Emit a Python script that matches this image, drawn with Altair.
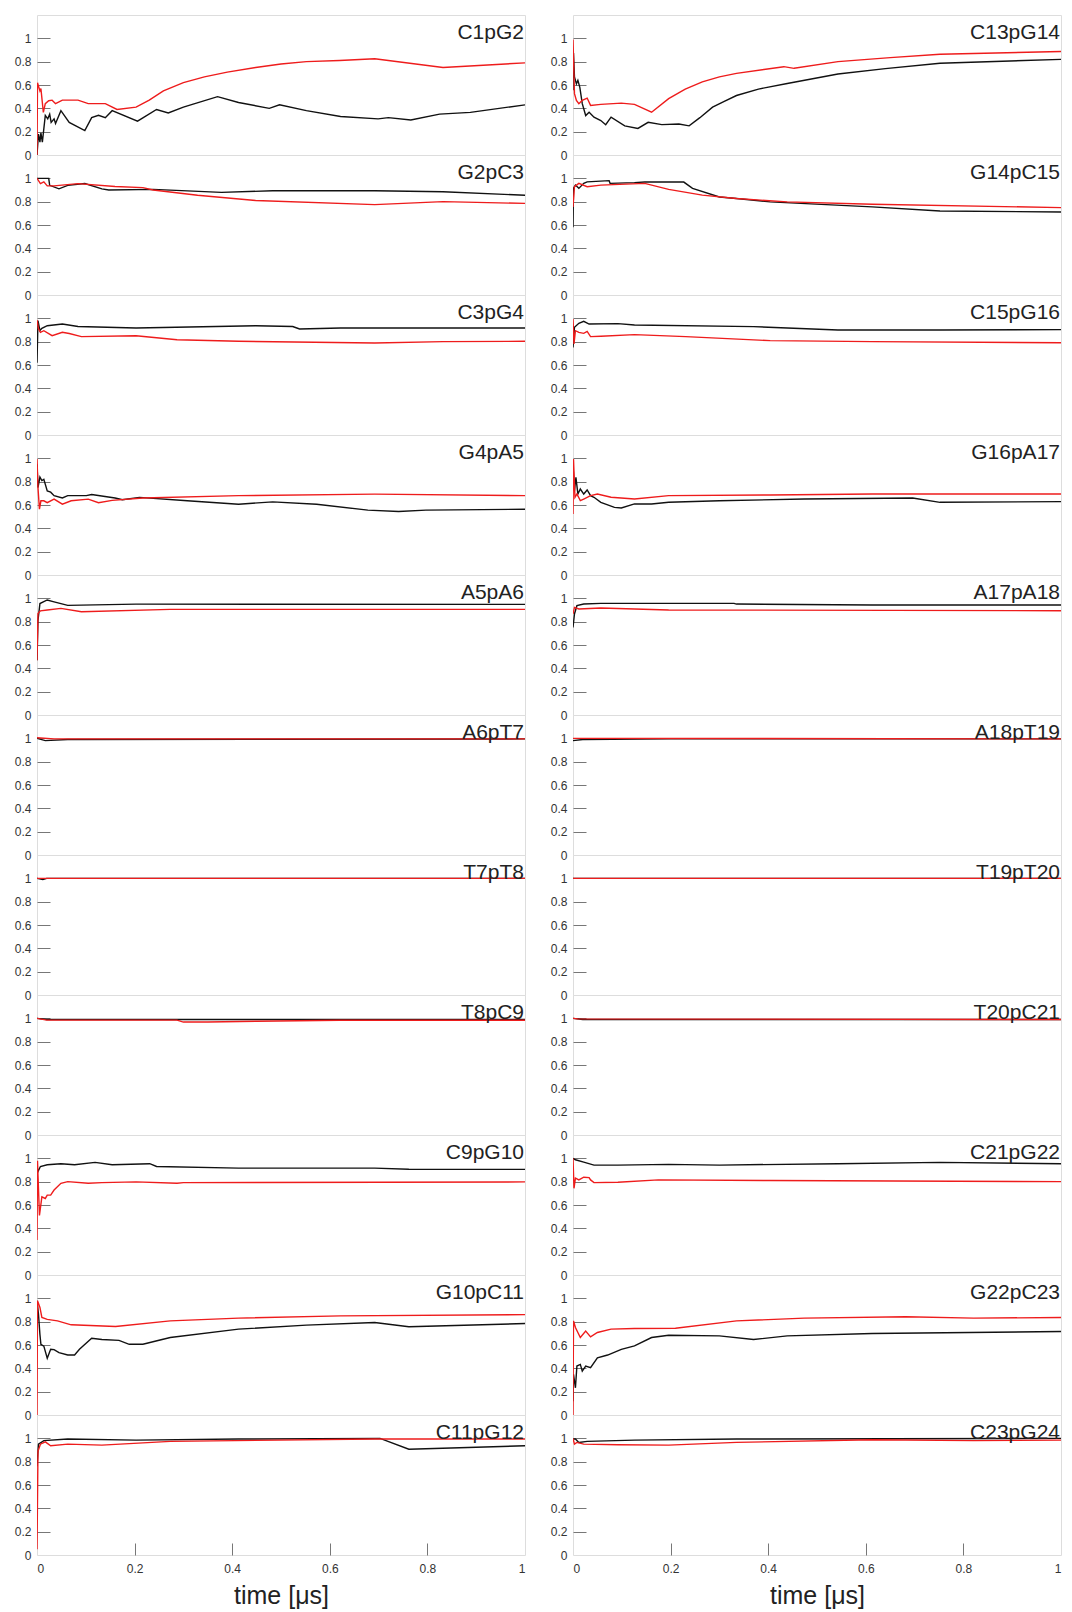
import altair as alt
import pandas as pd

left_names = ["C1pG2", "G2pC3", "C3pG4", "G4pA5", "A5pA6", "A6pT7",
              "T7pT8", "T8pC9", "C9pG10", "G10pC11", "C11pG12"]
right_names = ["C13pG14", "G14pC15", "C15pG16", "G16pA17", "A17pA18", "A18pT19",
               "T19pT20", "T20pC21", "C21pG22", "G22pC23", "C23pG24"]

y_ticks = [0, 0.2, 0.4, 0.6, 0.8, 1]
x_ticks = [0, 0.2, 0.4, 0.6, 0.8, 1]

# (time [us], value) pairs; black and red series per panel
C1pG2_black = [(0, 0.0), (0.003, 0.18), (0.006, 0.11), (0.008, 0.19), (0.011, 0.11), (0.017, 0.34),
               (0.022, 0.31), (0.026, 0.35), (0.029, 0.28), (0.035, 0.31), (0.038, 0.27), (0.049, 0.38),
               (0.066, 0.28), (0.098, 0.21), (0.112, 0.32), (0.126, 0.34), (0.14, 0.32), (0.154, 0.38),
               (0.206, 0.29), (0.245, 0.39), (0.269, 0.36), (0.30, 0.41), (0.37, 0.50), (0.413, 0.45),
               (0.476, 0.40), (0.497, 0.43), (0.552, 0.38), (0.622, 0.33), (0.699, 0.31), (0.72, 0.32),
               (0.766, 0.30), (0.825, 0.35), (0.888, 0.365), (1.0, 0.43)]
C1pG2_red = [(0, 0.0), (0.001, 0.62), (0.006, 0.55), (0.008, 0.57), (0.013, 0.365), (0.017, 0.44),
             (0.024, 0.465), (0.031, 0.47), (0.038, 0.44), (0.052, 0.47), (0.084, 0.47), (0.105, 0.44),
             (0.14, 0.44), (0.164, 0.39), (0.203, 0.41), (0.23, 0.47), (0.259, 0.55), (0.30, 0.62),
             (0.343, 0.67), (0.39, 0.71), (0.448, 0.75), (0.50, 0.78), (0.552, 0.80), (0.62, 0.81),
             (0.692, 0.825), (0.832, 0.75), (1.0, 0.79)]

G2pC3_black = [(0, 1.0), (0.024, 1.0), (0.026, 0.94), (0.045, 0.91), (0.063, 0.94), (0.098, 0.955),
               (0.133, 0.91), (0.147, 0.90), (0.238, 0.905), (0.378, 0.88), (0.483, 0.893),
               (0.692, 0.893), (0.832, 0.885), (1.0, 0.855)]
G2pC3_red = [(0, 1.0), (0.007, 0.955), (0.014, 0.97), (0.021, 0.935), (0.035, 0.935), (0.084, 0.955),
             (0.16, 0.93), (0.217, 0.92), (0.238, 0.90), (0.329, 0.855), (0.448, 0.81), (0.692, 0.775),
             (0.832, 0.80), (1.0, 0.785)]

C3pG4_black = [(0, 0.62), (0.002, 0.98), (0.006, 0.895), (0.01, 0.914), (0.021, 0.937), (0.052, 0.951),
               (0.084, 0.93), (0.203, 0.917), (0.448, 0.937), (0.524, 0.93), (0.538, 0.909),
               (0.622, 0.917), (1.0, 0.917)]
C3pG4_red = [(0, 0.986), (0.003, 0.91), (0.007, 0.88), (0.014, 0.894), (0.031, 0.851), (0.052, 0.88),
             (0.066, 0.87), (0.091, 0.843), (0.203, 0.851), (0.287, 0.817), (0.413, 0.803),
             (0.692, 0.789), (0.832, 0.80), (1.0, 0.803)]

G4pA5_black = [(0, 0.95), (0.002, 0.75), (0.006, 0.84), (0.01, 0.81), (0.014, 0.82), (0.021, 0.72),
               (0.028, 0.71), (0.035, 0.68), (0.052, 0.66), (0.063, 0.68), (0.101, 0.68), (0.112, 0.69),
               (0.16, 0.66), (0.175, 0.645), (0.21, 0.665), (0.308, 0.636), (0.413, 0.607),
               (0.483, 0.627), (0.573, 0.607), (0.678, 0.556), (0.741, 0.544), (0.797, 0.556),
               (1.0, 0.564)]
G4pA5_red = [(0, 0.995), (0.002, 0.75), (0.005, 0.564), (0.008, 0.636), (0.014, 0.636), (0.021, 0.62),
             (0.035, 0.65), (0.052, 0.607), (0.07, 0.636), (0.105, 0.65), (0.126, 0.62), (0.154, 0.64),
             (0.217, 0.66), (0.413, 0.68), (0.692, 0.693), (1.0, 0.68)]

A5pA6_black = [(0, 0.47), (0.002, 0.81), (0.006, 0.955), (0.021, 0.986), (0.035, 0.97), (0.063, 0.94),
               (0.203, 0.95), (1.0, 0.948)]
A5pA6_red = [(0, 0.47), (0.002, 0.87), (0.007, 0.893), (0.021, 0.90), (0.049, 0.914), (0.091, 0.885),
             (0.273, 0.905), (1.0, 0.905)]

A6pT7_black = [(0, 1.0), (0.017, 0.98), (0.063, 0.99), (1.0, 0.995)]
A6pT7_red = [(0, 1.005), (0.035, 0.995), (1.0, 0.995)]

T7pT8_black = [(0, 1.0), (0.012, 0.99), (0.02, 1.0), (1.0, 1.0)]
T7pT8_red = [(0, 1.0), (1.0, 1.0)]

T8pC9_black = [(0, 1.0), (0.02, 0.99), (0.1, 0.99), (1.0, 0.99)]
T8pC9_red = [(0, 1.0), (0.02, 0.985), (0.287, 0.985), (0.30, 0.968), (0.35, 0.968), (0.45, 0.975),
             (0.62, 0.983), (1.0, 0.983)]

C9pG10_black = [(0, 0.93), (0.002, 0.887), (0.007, 0.93), (0.021, 0.945), (0.049, 0.954),
                (0.077, 0.945), (0.119, 0.965), (0.154, 0.945), (0.231, 0.954), (0.245, 0.93),
                (0.413, 0.916), (0.692, 0.916), (0.762, 0.907), (1.0, 0.905)]
C9pG10_red = [(0, 0.3), (0.001, 0.98), (0.005, 0.51), (0.01, 0.67), (0.017, 0.656), (0.021, 0.685),
              (0.028, 0.685), (0.035, 0.728), (0.049, 0.786), (0.063, 0.80), (0.105, 0.786),
              (0.133, 0.792), (0.203, 0.798), (0.287, 0.786), (0.30, 0.792), (1.0, 0.798)]

G10pC11_black = [(0, 0.98), (0.003, 0.865), (0.006, 0.69), (0.008, 0.606), (0.014, 0.59),
                 (0.021, 0.486), (0.028, 0.563), (0.035, 0.56), (0.045, 0.534), (0.063, 0.514),
                 (0.077, 0.514), (0.087, 0.563), (0.112, 0.658), (0.133, 0.647), (0.168, 0.64),
                 (0.189, 0.606), (0.217, 0.606), (0.273, 0.664), (0.413, 0.736), (0.552, 0.77),
                 (0.692, 0.793), (0.762, 0.756), (1.0, 0.784)]
G10pC11_red = [(0, 0.0), (0.001, 0.98), (0.006, 0.922), (0.01, 0.836), (0.021, 0.82), (0.042, 0.807),
               (0.07, 0.773), (0.161, 0.759), (0.273, 0.807), (0.413, 0.83), (0.622, 0.85), (1.0, 0.86)]

C11pG12_black = [(0, 0.76), (0.003, 0.95), (0.014, 0.98), (0.063, 0.994), (0.203, 0.985),
                 (0.413, 0.994), (0.703, 1.0), (0.762, 0.907), (1.0, 0.936)]
C11pG12_red = [(0, 0.05), (0.002, 0.89), (0.007, 0.95), (0.017, 0.97), (0.028, 0.936), (0.063, 0.95),
               (0.133, 0.942), (0.273, 0.974), (0.692, 0.994), (1.0, 0.994)]

C13pG14_black = [(0, 0.555), (0.001, 0.873), (0.003, 0.67), (0.007, 0.61), (0.01, 0.64), (0.014, 0.58),
                 (0.019, 0.44), (0.026, 0.338), (0.033, 0.367), (0.043, 0.324), (0.057, 0.295),
                 (0.067, 0.26), (0.078, 0.324), (0.106, 0.25), (0.133, 0.228), (0.154, 0.28),
                 (0.182, 0.26), (0.217, 0.266), (0.238, 0.25), (0.26, 0.32), (0.286, 0.41),
                 (0.31, 0.46), (0.335, 0.51), (0.38, 0.565), (0.439, 0.613), (0.543, 0.694),
                 (0.64, 0.74), (0.752, 0.786), (1.0, 0.82)]
C13pG14_red = [(0, 0.99), (0.003, 0.526), (0.007, 0.468), (0.012, 0.44), (0.019, 0.468), (0.029, 0.488),
               (0.036, 0.425), (0.057, 0.434), (0.099, 0.445), (0.126, 0.434), (0.161, 0.367),
               (0.196, 0.483), (0.23, 0.565), (0.265, 0.627), (0.30, 0.67), (0.335, 0.70),
               (0.432, 0.757), (0.453, 0.743), (0.543, 0.80), (0.65, 0.835), (0.752, 0.864),
               (1.0, 0.887)]

G14pC15_black = [(0, 0.58), (0.001, 0.914), (0.005, 0.942), (0.012, 0.914), (0.022, 0.957),
                 (0.029, 0.97), (0.074, 0.98), (0.076, 0.957), (0.126, 0.963), (0.147, 0.968),
                 (0.227, 0.968), (0.245, 0.914), (0.30, 0.84), (0.335, 0.827), (0.404, 0.798),
                 (0.613, 0.755), (0.752, 0.72), (1.0, 0.712)]
G14pC15_red = [(0, 0.755), (0.003, 0.928), (0.012, 0.957), (0.029, 0.928), (0.057, 0.942),
               (0.147, 0.957), (0.196, 0.905), (0.265, 0.856), (0.335, 0.827), (0.439, 0.798),
               (0.613, 0.778), (1.0, 0.749)]

C15pG16_black = [(0, 0.75), (0.003, 0.923), (0.012, 0.957), (0.022, 0.974), (0.033, 0.951),
                 (0.092, 0.955), (0.126, 0.943), (0.37, 0.929), (0.543, 0.90), (0.752, 0.90),
                 (1.0, 0.903)]
C15pG16_red = [(0, 0.994), (0.002, 0.78), (0.005, 0.894), (0.012, 0.88), (0.022, 0.871),
               (0.029, 0.888), (0.036, 0.843), (0.057, 0.846), (0.126, 0.86), (0.231, 0.843),
               (0.404, 0.809), (0.613, 0.80), (1.0, 0.791)]

G16pA17_black = [(0, 0.95), (0.003, 0.723), (0.006, 0.837), (0.01, 0.694), (0.015, 0.737),
                 (0.022, 0.694), (0.029, 0.729), (0.036, 0.68), (0.043, 0.666), (0.057, 0.623),
                 (0.085, 0.58), (0.099, 0.574), (0.126, 0.609), (0.161, 0.609), (0.196, 0.623),
                 (0.30, 0.637), (0.474, 0.651), (0.696, 0.66), (0.752, 0.623), (1.0, 0.629)]
G16pA17_red = [(0, 0.523), (0.001, 0.994), (0.004, 0.666), (0.008, 0.694), (0.015, 0.637),
               (0.022, 0.651), (0.036, 0.68), (0.05, 0.694), (0.078, 0.666), (0.126, 0.651),
               (0.196, 0.68), (0.404, 0.686), (0.613, 0.694), (1.0, 0.694)]

A17pA18_black = [(0, 0.75), (0.003, 0.866), (0.008, 0.937), (0.022, 0.951), (0.057, 0.957),
                 (0.33, 0.957), (0.335, 0.951), (0.613, 0.943), (1.0, 0.943)]
A17pA18_red = [(0, 0.866), (0.003, 0.923), (0.012, 0.909), (0.057, 0.917), (0.196, 0.90), (1.0, 0.894)]

A18pT19_black = [(0, 0.98), (0.02, 0.99), (0.2, 0.995), (1.0, 0.995)]
A18pT19_red = [(0, 1.0), (1.0, 0.995)]

T19pT20_black = [(0, 1.0), (1.0, 1.0)]
T19pT20_red = [(0, 1.0), (1.0, 1.0)]

T20pC21_black = [(0, 1.0), (0.02, 0.99), (1.0, 0.99)]
T20pC21_red = [(0, 1.0), (0.01, 0.995), (1.0, 0.99)]

C21pG22_black = [(0, 1.0), (0.005, 0.988), (0.022, 0.968), (0.043, 0.942), (0.092, 0.942),
                 (0.196, 0.948), (0.30, 0.942), (0.543, 0.954), (0.752, 0.965), (1.0, 0.954)]
C21pG22_red = [(0, 1.0), (0.002, 0.743), (0.005, 0.83), (0.012, 0.815), (0.022, 0.838), (0.033, 0.835),
               (0.036, 0.815), (0.043, 0.792), (0.092, 0.795), (0.175, 0.815), (0.404, 0.81), (1.0, 0.80)]

G22pC23_black = [(0, 0.118), (0.001, 0.348), (0.005, 0.233), (0.008, 0.42), (0.015, 0.434),
                 (0.019, 0.376), (0.026, 0.42), (0.036, 0.405), (0.05, 0.49), (0.071, 0.514),
                 (0.099, 0.563), (0.126, 0.592), (0.161, 0.664), (0.196, 0.684), (0.30, 0.678),
                 (0.37, 0.647), (0.439, 0.678), (0.613, 0.698), (1.0, 0.716)]
G22pC23_red = [(0, 0.0), (0.001, 0.807), (0.005, 0.75), (0.015, 0.664), (0.026, 0.72), (0.036, 0.67),
               (0.05, 0.707), (0.078, 0.736), (0.126, 0.741), (0.21, 0.744), (0.335, 0.807),
               (0.474, 0.83), (0.682, 0.842), (0.821, 0.83), (1.0, 0.836)]

C23pG24_black = [(0, 0.994), (0.005, 0.994), (0.012, 0.965), (0.029, 0.974), (0.126, 0.985),
                 (0.335, 0.994), (1.0, 1.0)]
C23pG24_red = [(0, 1.0), (0.003, 0.95), (0.008, 0.965), (0.022, 0.95), (0.092, 0.945), (0.196, 0.942),
               (0.335, 0.965), (0.613, 0.988), (0.821, 0.98), (1.0, 0.985)]

series = {name: (globals()[name + "_black"], globals()[name + "_red"])
          for name in left_names + right_names}

FONT = "Liberation Sans"
PANEL_W = 488
PANEL_H = 140


def panel(name, bottom):
    rows = []
    for s, pts in (("black", series[name][0]), ("red", series[name][1])):
        for i, (t, v) in enumerate(pts):
            rows.append({"t": t, "v": v, "s": s, "i": i})
    df = pd.DataFrame(rows)
    base = alt.Chart(df)
    xscale = alt.Scale(domain=[0, 1], nice=False, zero=False)
    yscale = alt.Scale(domain=[0, 1.2], nice=False)
    if bottom:
        xax_main = alt.Axis(values=x_ticks, format="~g", ticks=False, domain=False, grid=False,
                            labelPadding=8, labelFontSize=12, labelColor="#333", labelFont=FONT,
                            title="time [μs]", titleFontSize=25, titleFontWeight="normal",
                            titleColor="#222", titleFont=FONT, titlePadding=9)
        xax_tick = alt.Axis(values=x_ticks[1:-1], orient="bottom", offset=-12, tickSize=12,
                            labels=False, domain=False, grid=False, title=None, tickColor="#777")
    else:
        xax_main = None
        xax_tick = None
    yax_main = alt.Axis(values=y_ticks, format="~g", ticks=False, domain=False, grid=False,
                        labelPadding=6, labelFontSize=12, labelColor="#333", labelFont=FONT,
                        title=None)
    yax_tick = alt.Axis(values=y_ticks[1:], orient="left", offset=-13, tickSize=13, labels=False,
                        domain=False, grid=False, title=None, tickColor="#777")
    lines = base.mark_line(strokeWidth=1.4, clip=True).encode(
        x=alt.X("t:Q", scale=xscale, axis=xax_main),
        y=alt.Y("v:Q", scale=yscale, axis=yax_main),
        color=alt.Color("s:N", scale=alt.Scale(domain=["black", "red"], range=["#111111", "#ee1c1c"]),
                        legend=None),
        order="i:Q",
    )
    ticks = base.mark_line(opacity=0).encode(
        x=alt.X("t:Q", scale=xscale, axis=xax_tick),
        y=alt.Y("v:Q", scale=yscale, axis=yax_tick),
        detail="s:N",
    )
    label = alt.Chart(pd.DataFrame({"name": [name]})).mark_text(
        align="right", baseline="alphabetic", fontSize=21, font=FONT, color="#222"
    ).encode(text="name:N", x=alt.value(PANEL_W - 1), y=alt.value(24))
    return alt.layer(lines, ticks, label).resolve_axis(x="independent", y="independent").properties(
        width=PANEL_W, height=PANEL_H)


panels = []
n_rows = len(left_names)
for r in range(n_rows):
    panels.append(panel(left_names[r], r == n_rows - 1))
    panels.append(panel(right_names[r], r == n_rows - 1))

chart = alt.concat(*panels, columns=2, spacing={"row": 0, "column": 48}, bounds="flush").properties(
    padding={"left": 5, "top": 6, "right": 0, "bottom": 5}
).configure_view(stroke="#777", strokeWidth=1).configure(font=FONT)

chart.save("out.html", embed_options={"renderer": "svg", "actions": False})
